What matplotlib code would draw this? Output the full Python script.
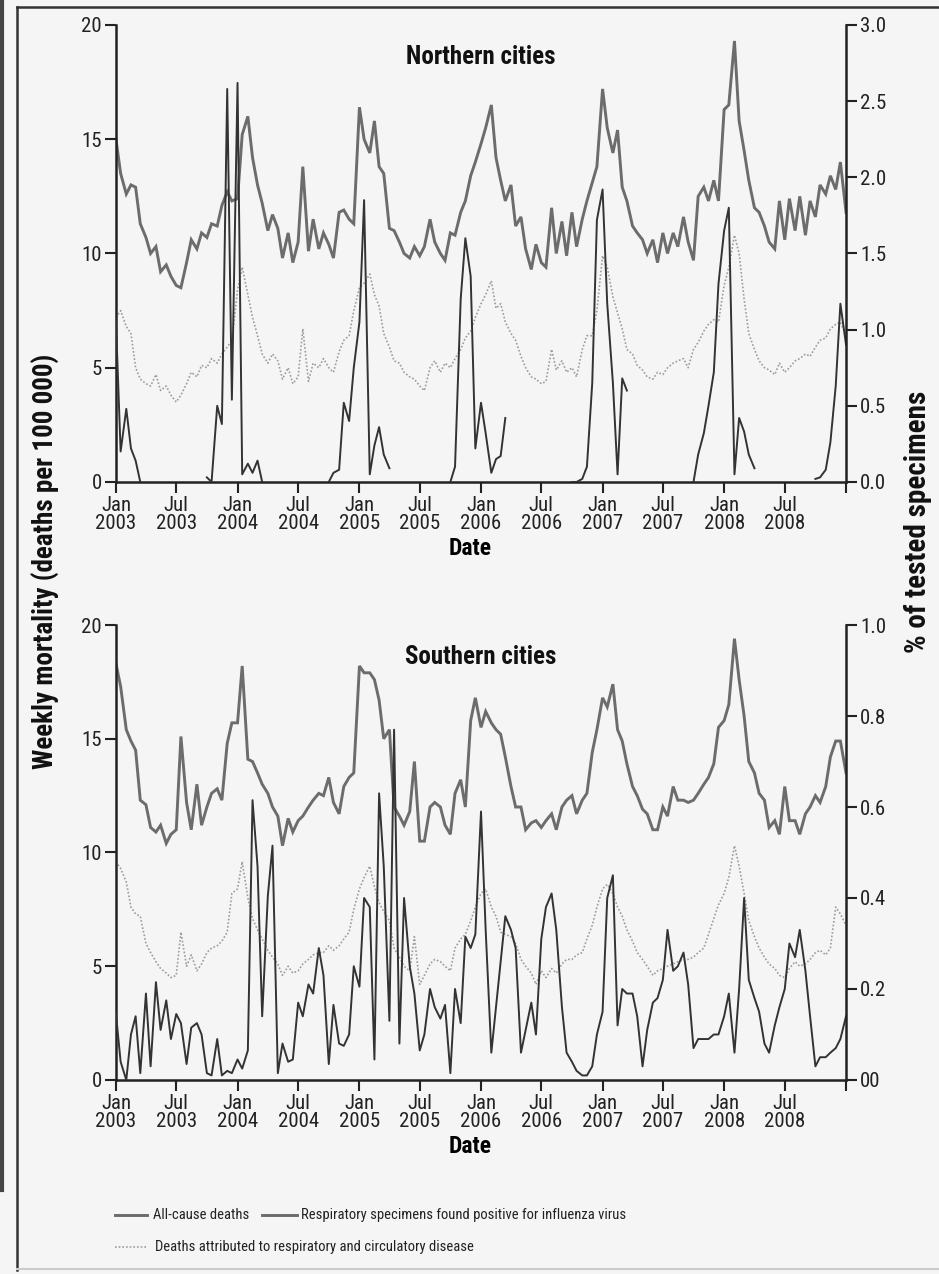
import numpy as np
import pandas as pd
import matplotlib
matplotlib.use("Agg")
import matplotlib.pyplot as plt
from matplotlib import font_manager
from matplotlib.lines import Line2D

nan = np.nan

# semi-monthly readings (1st and 15th of each month), Jan 2003 -> Jan 2009
dates = pd.date_range("2003-01-01", periods=145, freq="SMS")

# ---------------------------------------------------------------------------
# Northern cities (left axis: deaths per 100 000, right axis: % positive)
# ---------------------------------------------------------------------------
north_allcause = [
    15.0, 13.5, 12.6, 13.0, 12.9, 11.3, 10.7, 10.0, 10.3, 9.2, 9.5, 9.0,
    8.6, 8.5, 9.6, 10.6, 10.2, 10.9, 10.7, 11.3, 11.2, 12.1, 12.7, 12.3,
    12.4, 15.2, 16.0, 14.2, 13.0, 12.2, 11.0, 11.7, 11.1, 9.8, 10.9, 9.6,
    10.5, 13.8, 10.1, 11.5, 10.2, 10.9, 10.4, 9.8, 11.8, 11.9, 11.5, 11.3,
    16.4, 15.0, 14.4, 15.8, 13.8, 13.5, 11.1, 11.0, 10.5, 10.0, 9.8, 10.3,
    9.9, 10.3, 11.5, 10.5, 10.0, 9.7, 10.9, 10.8, 11.8, 12.3, 13.4, 14.0,
    14.8, 15.5, 16.5, 14.2, 13.2, 12.3, 13.0, 11.2, 11.6, 10.2, 9.3, 10.4,
    9.6, 9.4, 12.0, 10.0, 11.4, 9.9, 11.8, 10.3, 11.5, 12.3, 13.1, 13.8,
    17.2, 15.5, 14.4, 15.4, 12.9, 12.3, 11.2, 10.9, 10.6, 10.0, 10.6, 9.6,
    10.9, 10.0, 10.9, 10.3, 11.6, 10.5, 9.7, 12.5, 12.9, 12.3, 13.2, 12.3,
    16.3, 16.5, 19.3, 15.8, 14.5, 13.2, 12.0, 11.8, 11.2, 10.5, 10.2, 12.3,
    10.6, 12.4, 11.0, 12.5, 10.8, 12.3, 11.6, 13.0, 12.6, 13.4, 12.8, 14.0,
    11.8,
]
north_respcirc = [
    7.2, 7.5, 6.8, 6.5, 5.0, 4.5, 4.3, 4.2, 4.7, 4.0, 4.2, 3.8,
    3.5, 3.8, 4.3, 4.8, 4.6, 5.1, 5.0, 5.4, 5.2, 5.6, 5.9, 6.2,
    8.4, 9.4, 8.2, 7.2, 6.4, 5.6, 5.2, 5.6, 5.3, 4.5, 5.0, 4.3,
    4.6, 6.7, 4.4, 5.2, 5.0, 5.4, 5.0, 4.8, 5.7, 6.2, 6.4, 7.5,
    8.5, 8.7, 9.1, 8.2, 7.7, 6.5, 5.9, 5.3, 5.2, 4.8, 4.6, 4.5,
    4.2, 4.0, 5.0, 5.3, 4.8, 5.2, 5.0, 5.4, 5.8, 6.3, 6.6, 7.2,
    7.8, 8.2, 8.8, 7.6, 7.8, 7.0, 6.5, 6.2, 5.5, 5.0, 4.6, 4.5,
    4.3, 4.4, 5.8, 4.9, 5.3, 4.8, 5.0, 4.6, 5.8, 6.4, 6.4, 7.5,
    9.9, 9.4, 8.1, 7.4, 6.7, 5.8, 5.6, 5.1, 4.9, 4.6, 4.5, 4.8,
    4.7, 5.0, 5.2, 5.3, 5.4, 5.0, 5.8, 6.1, 6.6, 6.9, 7.1, 7.0,
    8.6, 9.4, 10.8, 10.0, 8.0, 6.5, 5.8, 5.3, 5.0, 4.9, 4.7, 5.2,
    4.8, 5.0, 5.3, 5.4, 5.6, 5.5, 5.9, 6.2, 6.3, 6.7, 6.9, 7.0,
    6.4,
]
north_flu_pct = [
    1.05, 0.20, 0.48, 0.22, 0.14, 0.00, nan, nan, nan, nan, nan, nan,
    nan, nan, nan, nan, nan, nan, 0.03, 0.00, 0.50, 0.38, 2.58, 0.54,
    2.62, 0.05, 0.12, 0.06, 0.14, 0.00, nan, nan, nan, nan, nan, nan,
    nan, nan, nan, nan, nan, nan, 0.00, 0.06, 0.08, 0.52, 0.40, 0.75,
    1.05, 1.85, 0.05, 0.24, 0.36, 0.18, 0.09, nan, nan, nan, nan, nan,
    nan, nan, nan, nan, nan, nan, 0.00, 0.10, 1.20, 1.60, 1.35, 0.22,
    0.52, 0.32, 0.06, 0.15, 0.17, 0.42, nan, nan, nan, nan, nan, nan,
    nan, nan, nan, nan, nan, nan, 0.00, 0.00, 0.02, 0.10, 0.65, 1.72,
    1.92, 1.17, 0.65, 0.05, 0.68, 0.60, nan, nan, nan, nan, nan, nan,
    nan, nan, nan, nan, nan, nan, 0.00, 0.18, 0.32, 0.50, 0.72, 1.30,
    1.65, 1.80, 0.05, 0.42, 0.33, 0.18, 0.09, nan, nan, nan, nan, nan,
    nan, nan, nan, nan, nan, nan, 0.02, 0.03, 0.08, 0.26, 0.63, 1.17,
    0.90,
]

# ---------------------------------------------------------------------------
# Southern cities
# ---------------------------------------------------------------------------
south_allcause = [
    18.3, 17.3, 15.4, 14.9, 14.5, 12.3, 12.1, 11.1, 10.9, 11.2, 10.4, 10.8,
    11.0, 15.1, 12.2, 11.0, 13.0, 11.2, 12.0, 12.6, 12.8, 12.3, 14.8, 15.7,
    15.7, 18.2, 14.1, 14.0, 13.5, 13.0, 12.6, 12.0, 11.6, 10.3, 11.5, 10.9,
    11.4, 11.6, 12.0, 12.3, 12.6, 12.5, 13.3, 12.2, 11.7, 12.9, 13.3, 13.5,
    18.2, 17.9, 17.9, 17.6, 16.7, 15.0, 15.4, 12.0, 11.6, 11.2, 11.8, 14.0,
    10.5, 10.5, 12.0, 12.2, 12.0, 11.2, 10.8, 12.6, 13.2, 12.0, 15.8, 16.8,
    15.5, 16.2, 15.7, 15.4, 15.2, 14.2, 12.9, 12.0, 12.0, 11.0, 11.3, 11.4,
    11.1, 11.4, 11.7, 11.0, 12.0, 12.3, 12.5, 11.7, 12.3, 12.6, 14.4, 15.4,
    16.8, 16.4, 17.4, 15.4, 14.9, 13.9, 12.9, 12.5, 11.9, 11.7, 11.0, 11.0,
    12.0, 11.6, 12.9, 12.3, 12.3, 12.2, 12.3, 12.6, 13.0, 13.3, 13.9, 15.5,
    15.8, 16.5, 19.4, 17.6, 16.0, 14.0, 13.5, 12.6, 12.3, 11.1, 11.4, 10.8,
    12.9, 11.4, 11.4, 10.8, 11.7, 12.0, 12.5, 12.2, 12.9, 14.2, 14.9, 14.9,
    13.5,
]
south_respcirc = [
    9.6, 9.3, 8.7, 7.6, 7.3, 7.2, 6.0, 5.6, 5.2, 4.9, 4.7, 4.5,
    4.6, 6.5, 5.0, 5.5, 4.8, 5.1, 5.6, 5.8, 5.9, 6.1, 6.5, 8.2,
    8.4, 9.6, 8.0, 7.1, 6.6, 6.2, 5.7, 5.4, 5.1, 4.6, 5.0, 4.7,
    4.8, 5.1, 5.3, 5.5, 5.6, 5.6, 5.9, 5.7, 5.9, 6.2, 6.5, 7.5,
    8.4, 8.9, 9.4, 8.5, 7.8, 7.4, 7.0, 5.8, 5.4, 5.0, 4.8, 6.3,
    4.2, 4.6, 5.1, 5.3, 5.2, 5.0, 4.8, 5.8, 6.2, 6.4, 7.0, 7.6,
    8.2, 8.4, 7.6, 7.2, 6.5, 6.4, 6.3, 6.0, 5.3, 5.0, 4.7, 4.2,
    4.8, 4.5, 4.9, 4.7, 5.1, 5.3, 5.3, 5.5, 5.6, 6.2, 6.8, 7.6,
    8.4, 8.6, 8.2, 7.6, 7.2, 6.6, 6.1, 5.6, 5.3, 5.0, 4.6, 4.8,
    4.9, 5.0, 5.1, 5.2, 5.3, 5.3, 5.4, 5.6, 5.8, 6.4, 7.1, 7.7,
    8.2, 8.9, 10.3, 9.4, 8.2, 7.0, 6.3, 5.8, 5.4, 5.1, 4.9, 4.6,
    4.5, 4.9, 5.2, 5.0, 5.1, 5.3, 5.6, 5.7, 5.5, 5.8, 7.6, 7.3,
    6.8,
]
south_flu_pct = [
    0.145, 0.04, 0.0, 0.10, 0.14, 0.015, 0.19, 0.03, 0.215, 0.11, 0.175, 0.09,
    0.145, 0.125, 0.035, 0.115, 0.125, 0.10, 0.015, 0.01, 0.09, 0.01, 0.02, 0.015,
    0.045, 0.025, 0.065, 0.615, 0.47, 0.14, 0.405, 0.515, 0.015, 0.08, 0.04, 0.045,
    0.17, 0.14, 0.21, 0.19, 0.29, 0.23, 0.035, 0.165, 0.08, 0.075, 0.10, 0.25,
    0.205, 0.40, 0.38, 0.045, 0.63, 0.47, 0.13, 0.77, 0.08, 0.40, 0.25, 0.19,
    0.065, 0.10, 0.20, 0.16, 0.135, 0.165, 0.015, 0.20, 0.125, 0.315, 0.29, 0.32,
    0.59, 0.33, 0.06, 0.16, 0.26, 0.36, 0.33, 0.29, 0.06, 0.11, 0.17, 0.10,
    0.31, 0.38, 0.41, 0.33, 0.16, 0.06, 0.04, 0.02, 0.01, 0.01, 0.03, 0.10,
    0.15, 0.40, 0.45, 0.12, 0.20, 0.19, 0.19, 0.14, 0.03, 0.11, 0.17, 0.18,
    0.22, 0.33, 0.24, 0.25, 0.28, 0.21, 0.07, 0.09, 0.09, 0.09, 0.10, 0.10,
    0.14, 0.19, 0.06, 0.20, 0.40, 0.22, 0.18, 0.15, 0.08, 0.06, 0.12, 0.16,
    0.20, 0.30, 0.27, 0.33, 0.24, 0.14, 0.03, 0.05, 0.05, 0.06, 0.07, 0.09,
    0.14,
]

left_ticks = [0, 5, 10, 15, 20]
north_right_ticks = [0.0, 0.5, 1.0, 1.5, 2.0, 2.5, 3.0]
north_right_labels = ["0.0", "0.5", "1.0", "1.5", "2.0", "2.5", "3.0"]
south_right_ticks = [0.0, 0.2, 0.4, 0.6, 0.8, 1.0]
south_right_labels = ["00", "0.2", "0.4", "0.6", "0.8", "1.0"]

# ---- font: a narrow sans if one is installed ----
installed = {f.name for f in font_manager.fontManager.ttflist}
FONT = "DejaVu Sans"
for cand in ["Liberation Sans Narrow", "Roboto Condensed", "Open Sans Condensed"]:
    if cand in installed:
        FONT = cand
        break
plt.rcParams["font.family"] = [FONT, "DejaVu Sans"]

BG = "#f5f5f5"
INK = "#222222"
C_ALL = "#6c6c6c"
C_FLU = "#333333"
C_RC = "#9c9c9c"
DOT = (0, (1.0, 1.2))

tick_dates = pd.date_range("2003-01-01", "2009-01-01", freq="6MS")
tick_labels = [f"{d:%b}\n{d:%Y}" for d in tick_dates[:-1]] + [""]
x_end = pd.Timestamp("2009-01-01")


def draw_panel(ax, allcause, respcirc, flu, rmax, rticks, rlabels, title):
    ax.set_facecolor(BG)
    ax.plot(dates, allcause, color=C_ALL, lw=2.1, solid_joinstyle="miter")
    ax.plot(dates, respcirc, color=C_RC, lw=1.2, linestyle=DOT)
    ax.set_xlim(dates[0], x_end)
    ax.set_ylim(0, 20)
    ax.set_yticks(left_ticks)
    ax.set_xticks(tick_dates)
    ax.set_xticklabels(tick_labels, linespacing=0.95)
    for s in ("top", "right"):
        ax.spines[s].set_visible(False)
    for s in ("left", "bottom"):
        ax.spines[s].set_linewidth(1.8)
        ax.spines[s].set_color(INK)
    ax.tick_params(axis="both", direction="out", length=8, width=1.5,
                   colors=INK, labelsize=15, pad=2)
    ax.set_xlabel("Date", fontsize=17, fontweight="bold", labelpad=3)
    ax.xaxis.set_label_coords(0.485, -0.121)
    ax.text(0.5, 0.93, title, transform=ax.transAxes, ha="center", va="center",
            fontsize=18, fontweight="bold", color="#111111")

    ax2 = ax.twinx()
    ax2.plot(dates, flu, color=C_FLU, lw=1.4)
    ax2.set_ylim(0, rmax)
    ax2.set_yticks(rticks)
    ax2.set_yticklabels(rlabels)
    for s in ("top", "left", "bottom"):
        ax2.spines[s].set_visible(False)
    ax2.spines["right"].set_linewidth(1.8)
    ax2.spines["right"].set_color(INK)
    ax2.tick_params(axis="y", direction="out", length=8, width=1.5,
                    colors=INK, labelsize=15, pad=2)
    return ax2


fig = plt.figure(figsize=(9.39, 12.74), dpi=100, facecolor=BG)
ax_n = fig.add_axes([0.1235, 0.6217, 0.7775, 0.3587])
ax_s = fig.add_axes([0.1235, 0.1523, 0.7775, 0.3571])

draw_panel(ax_n, north_allcause, north_respcirc, north_flu_pct, 3.0,
           north_right_ticks, north_right_labels, "Northern cities")
draw_panel(ax_s, south_allcause, south_respcirc, south_flu_pct, 1.0,
           south_right_ticks, south_right_labels, "Southern cities")

fig.text(0.049, 0.559, "Weekly mortality (deaths per 100 000)", rotation=90,
         ha="center", va="center", fontsize=19.5, fontweight="bold", color="#111111")
fig.text(0.978, 0.590, "% of tested specimens", rotation=90,
         ha="center", va="center", fontsize=21, fontweight="bold", color="#111111")

# ---- hand-placed legend under the lower panel ----
row1, row2 = 0.0463, 0.0212
fig.add_artist(Line2D([0.123, 0.157], [row1, row1], transform=fig.transFigure,
                      color=C_ALL, lw=2.1))
fig.text(0.163, row1, "All-cause deaths", va="center", fontsize=10.5, color=INK)
fig.add_artist(Line2D([0.279, 0.316], [row1, row1], transform=fig.transFigure,
                      color=C_ALL, lw=2.1))
fig.text(0.321, row1, "Respiratory specimens found positive for influenza virus",
         va="center", fontsize=10.5, color=INK)
fig.add_artist(Line2D([0.123, 0.157], [row2, row2], transform=fig.transFigure,
                      color=C_RC, lw=1.2, linestyle=DOT))
fig.text(0.165, row2, "Deaths attributed to respiratory and circulatory disease",
         va="center", fontsize=10.5, color=INK)

# ---- frame lines of the original figure box ----
fig.add_artist(Line2D([0.0181, 0.0181], [0.003, 0.9945], transform=fig.transFigure,
                      color="#333333", lw=1.8))
fig.add_artist(Line2D([0.0181, 1.0], [0.9945, 0.9945], transform=fig.transFigure,
                      color="#333333", lw=1.8))
fig.add_artist(Line2D([0.0025, 0.0025], [0.066, 1.0], transform=fig.transFigure,
                      color="#444444", lw=3.0))
fig.add_artist(Line2D([0.0181, 1.0], [0.004, 0.004], transform=fig.transFigure,
                      color="#cccccc", lw=1.5))

fig.savefig("out.png", dpi=100, facecolor=BG)
